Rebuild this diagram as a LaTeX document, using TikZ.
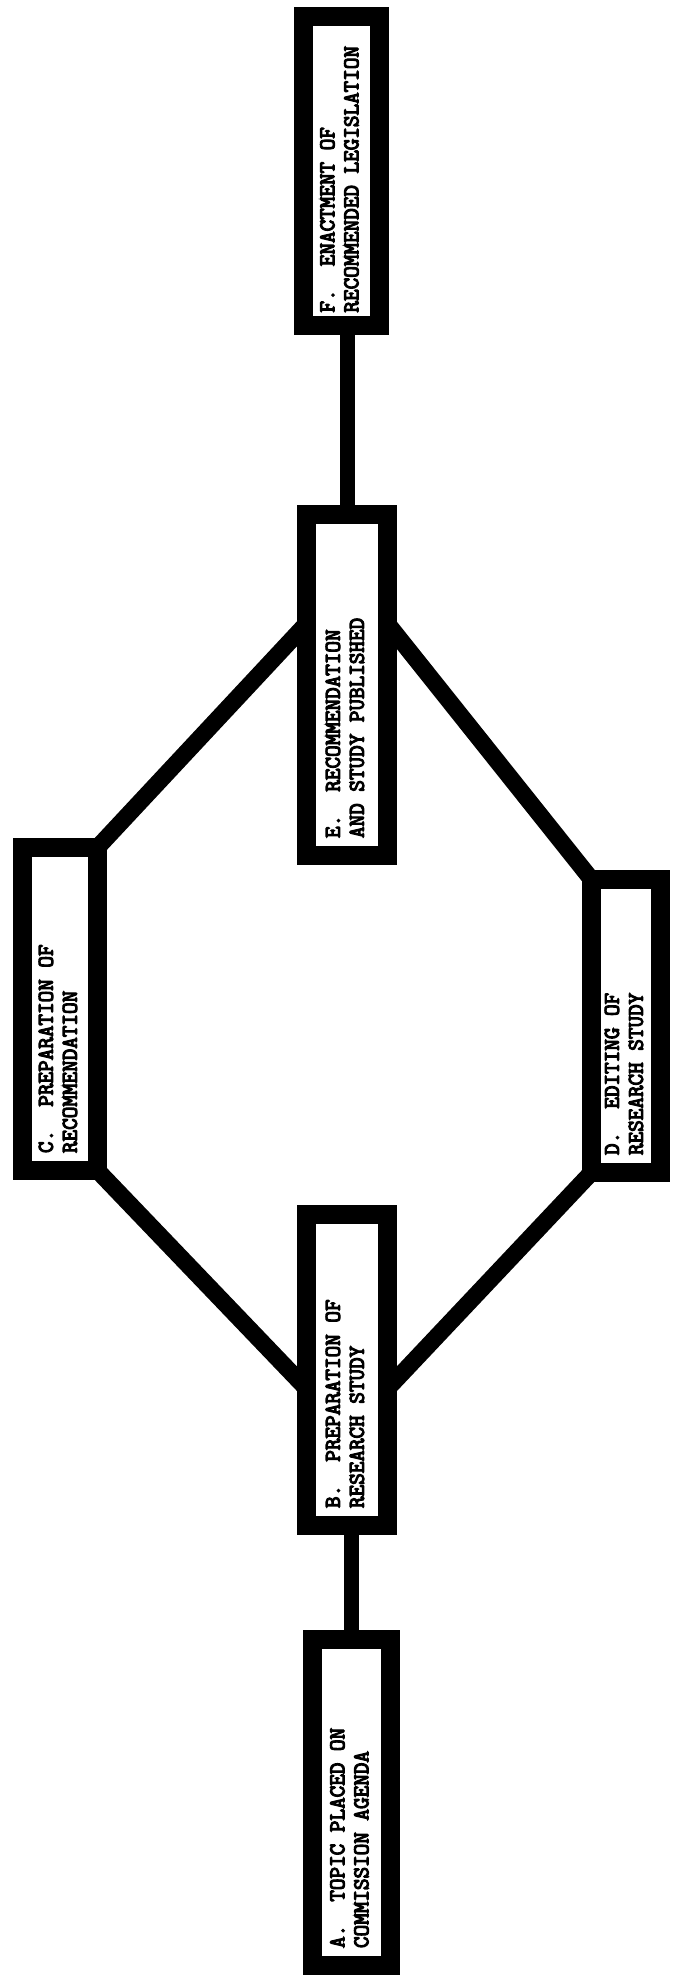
\documentclass[tikz,border=0pt]{standalone}
\usepackage{fontspec}
\newfontfamily\stagefont{Latin Modern Mono}[AutoFakeBold=5]
\usepackage{graphicx}
\usetikzlibrary{calc}
\tikzset{
  stage/.style={draw, line width=19pt, fill=white, inner sep=0pt, outer sep=0pt, font=\stagefont\bfseries\fontsize{22.5}{24}\selectfont},
  link/.style={line width=17pt},
  rise/.style={line width=15pt},
}
% box text: turned to read upwards, lines kept flush at the bottom
\newcommand{\stagetext}[3]{\rotatebox{90}{\makebox[#1][l]{\begin{tabular}{@{}l@{}}#2\\#3\end{tabular}}}}

\begin{document}
\begin{tikzpicture}[x=1pt, y=-1pt]
\useasboundingbox (0,0) rectangle (679,1988);
% stages
\node[stage, minimum width=76pt, minimum height=309pt] (F) at (341.5,171) {\stagetext{283pt}{F.~~ENACTMENT OF}{RECOMMENDED LEGISLATION}};
\node[stage, minimum width=81pt, minimum height=341pt] (E) at (347,685) {\stagetext{306pt}{E.~~RECOMMENDATION}{AND STUDY PUBLISHED}};
\node[stage, minimum width=75pt, minimum height=323pt] (C) at (60,1009) {\stagetext{288pt}{C.~~PREPARATION OF}{RECOMMENDATION}};
\node[stage, minimum width=69pt, minimum height=293pt] (D) at (626,1026) {\stagetext{258pt}{D.~~EDITING OF}{RESEARCH STUDY}};
\node[stage, minimum width=81pt, minimum height=311pt] (B) at (347,1370) {\stagetext{276pt}{B.~~PREPARATION OF}{RESEARCH STUDY}};
\node[stage, minimum width=78pt, minimum height=326pt] (A) at (351.5,1802.5) {\stagetext{291pt}{A.~~TOPIC PLACED ON}{COMMISSION AGENDA}};
% links
\draw[rise] (E.north |- F.south) -- (E.north);
\draw[rise] (A.north |- B.south) -- (A.north);
\draw[link] ($(E.north west)!0.32!(E.south west)$) -- (C.north east);
\draw[link] ($(E.north east)!0.32!(E.south east)$) -- (D.north west);
\draw[link] ($(B.north west)!0.56!(B.south west)$) -- (C.south east);
\draw[link] ($(B.north east)!0.56!(B.south east)$) -- (D.south west);
\end{tikzpicture}
\end{document}
